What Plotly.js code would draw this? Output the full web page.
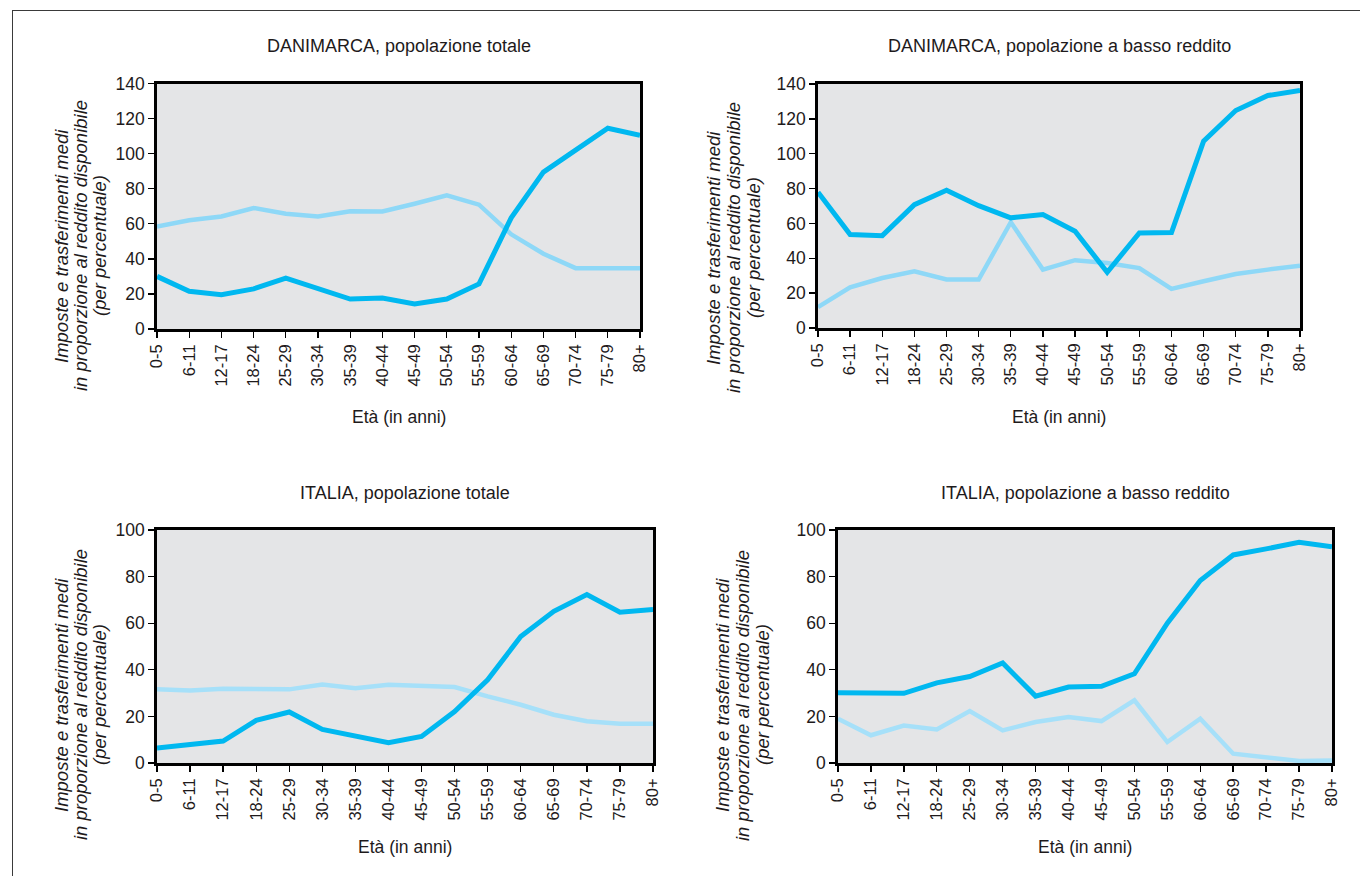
<!DOCTYPE html>
<html>
<head>
<meta charset="utf-8">
<script src="https://cdn.plot.ly/plotly-3.0.1.min.js"></script>
<style>
  html, body { margin: 0; padding: 0; background: #ffffff; }
  #wrap { position: relative; width: 1360px; height: 876px; overflow: hidden; }
  #chart { width: 1360px; height: 876px; }
  #frame { position: absolute; left: 12px; top: 10px; width: 1400px; height: 900px;
           border-left: 1.5px solid #3a3a3a; border-top: 1.5px solid #3a3a3a; pointer-events: none; }
</style>
</head>
<body>
<div id="wrap">
  <div id="chart"></div>
  <div id="frame"></div>
</div>
<script>
// ---- data ----
const ageGroups = ['0-5','6-11','12-17','18-24','25-29','30-34','35-39','40-44','45-49','50-54','55-59','60-64','65-69','70-74','75-79','80+'];

const dkTotalDark  = [30, 21.5, 19.6, 22.9, 29, 23.2, 17.1, 17.7, 14.3, 17.1, 25.7, 63.4, 89.5, 102, 114.5, 110.5];
const dkTotalLight = [58.5, 62, 64.2, 69, 65.7, 64.2, 67.2, 67, 71.4, 76.2, 70.9, 54, 42.9, 34.7, 34.7, 34.7];

const dkLowDark  = [77.9, 53.6, 53, 70.8, 79, 70.2, 63.2, 65.1, 55.5, 32, 54.5, 54.8, 107.2, 124.8, 133.4, 136.3];
const dkLowLight = [12, 23.3, 28.7, 32.5, 27.8, 27.8, 60.7, 33.5, 38.9, 37.3, 34.4, 22.4, 26.8, 31, 33.5, 35.8];

const itTotalDark  = [6.4, 8, 9.4, 18.3, 21.9, 14.4, 11.4, 8.7, 11.4, 22.1, 35.7, 54.3, 65.1, 72.3, 64.7, 65.9];
const itTotalLight = [31.6, 31.1, 31.9, 31.9, 31.6, 33.7, 32.1, 33.6, 33.3, 32.6, 28.6, 25, 20.7, 17.9, 16.8, 16.8];

const itLowDark  = [30.1, 30, 29.9, 34.4, 37.1, 42.9, 28.7, 32.6, 32.9, 38.3, 60, 78.3, 89.3, 91.9, 94.7, 92.8];
const itLowLight = [19, 11.9, 16.1, 14.4, 22.3, 14, 17.6, 19.7, 18, 26.9, 9, 19, 4, 2.3, 0.9, 1.1];

const panelTitles = ['DANIMARCA, popolazione totale', 'DANIMARCA, popolazione a basso reddito',
                     'ITALIA, popolazione totale', 'ITALIA, popolazione a basso reddito'];
const xTitle = 'Età (in anni)';
const yTitleLines = ['Imposte e trasferimenti medi', 'in proporzione al reddito disponibile', '(per percentuale)'];

// ---- layout helpers ----
const W = 1360, H = 876;
const px = v => v / W;
const py = v => 1 - v / H;
const FONT = 'Liberation Sans, Arial, Helvetica, sans-serif';
const TXT = '#1e1a1b';
const DARK = '#00b8f0';
const LIGHT_TOP = '#8ed8f7';
const LIGHT_BOT = '#a6e0f9';

// pixel boxes of the four plot areas [left, right, top, bottom]
const boxes = [
  [157, 640, 83.5, 329],
  [818, 1300, 84, 328],
  [157, 653, 530, 763],
  [838, 1332, 530, 763]
];
const yMax = [140, 140, 100, 100];
const series = [
  [dkTotalDark, dkTotalLight, LIGHT_TOP],
  [dkLowDark, dkLowLight, LIGHT_TOP],
  [itTotalDark, itTotalLight, LIGHT_BOT],
  [itLowDark, itLowLight, LIGHT_BOT]
];
// y-axis title line x positions (pixels) and vertical centre
const yTitleX = [[61, 80, 99], [713, 733, 753], [61, 80, 99], [722, 742, 762]];
const yTitleY = [246, 248, 695, 695];
const titleY = [46, 46, 493, 493];
const xTitleY = [417, 417, 847, 847];

const data = [];
const layout = {
  width: W, height: H,
  margin: {l: 0, r: 0, t: 0, b: 0},
  paper_bgcolor: '#ffffff',
  showlegend: false,
  font: {family: FONT, color: TXT, size: 16},
  annotations: [],
  shapes: []
};

boxes.forEach((b, i) => {
  const n = i === 0 ? '' : String(i + 1);
  const xa = 'xaxis' + n, ya = 'yaxis' + n;
  const xr = 'x' + n, yr = 'y' + n;
  const [d, l, lc] = series[i];
  data.push({x: ageGroups, y: l, xaxis: xr, yaxis: yr, type: 'scatter', mode: 'lines',
             line: {color: lc, width: 4.5}, hoverinfo: 'skip'});
  data.push({x: ageGroups, y: d, xaxis: xr, yaxis: yr, type: 'scatter', mode: 'lines',
             line: {color: DARK, width: 5}, hoverinfo: 'skip'});
  layout[xa] = {
    domain: [px(b[0]), px(b[1])], anchor: yr, type: 'category',
    range: [0, ageGroups.length - 1], tickangle: -90,
    showgrid: false, zeroline: false,
    showline: true, linecolor: '#000000', linewidth: 2.8, mirror: true,
    ticks: 'outside', ticklen: 6, tickwidth: 1.4, tickcolor: '#000000',
    tickfont: {family: FONT, size: 16.5, color: TXT}, fixedrange: true
  };
  layout[ya] = {
    domain: [py(b[3]), py(b[2])], anchor: xr,
    range: [0, yMax[i]], dtick: 20, tick0: 0,
    showgrid: false, zeroline: false,
    showline: true, linecolor: '#000000', linewidth: 2.8, mirror: true,
    ticks: 'outside', ticklen: 6, tickwidth: 1.4, tickcolor: '#000000',
    tickfont: {family: FONT, size: 17.5, color: TXT}, fixedrange: true
  };
  layout.shapes.push({type: 'rect', xref: xr + ' domain', yref: yr + ' domain',
                      x0: 0, x1: 1, y0: 0, y1: 1, fillcolor: '#e4e5e7', line: {width: 0}, layer: 'below'});
  const cx = (b[0] + b[1]) / 2;
  layout.annotations.push({text: panelTitles[i], xref: 'paper', yref: 'paper',
    x: px(cx), y: py(titleY[i]), xanchor: 'center', yanchor: 'middle', showarrow: false,
    font: {family: FONT, size: 18, color: TXT}});
  layout.annotations.push({text: xTitle, xref: 'paper', yref: 'paper',
    x: px(cx), y: py(xTitleY[i]), xanchor: 'center', yanchor: 'middle', showarrow: false,
    font: {family: FONT, size: 17.5, color: TXT}});
  yTitleLines.forEach((t, k) => {
    layout.annotations.push({text: t, xref: 'paper', yref: 'paper', textangle: -90,
      x: px(yTitleX[i][k]), y: py(yTitleY[i]), xanchor: 'center', yanchor: 'middle', showarrow: false,
      font: {family: FONT, size: 18.5, color: TXT, style: 'italic'}});
  });
});

Plotly.newPlot('chart', data, layout, {displayModeBar: false, staticPlot: true});
</script>
</body>
</html>
